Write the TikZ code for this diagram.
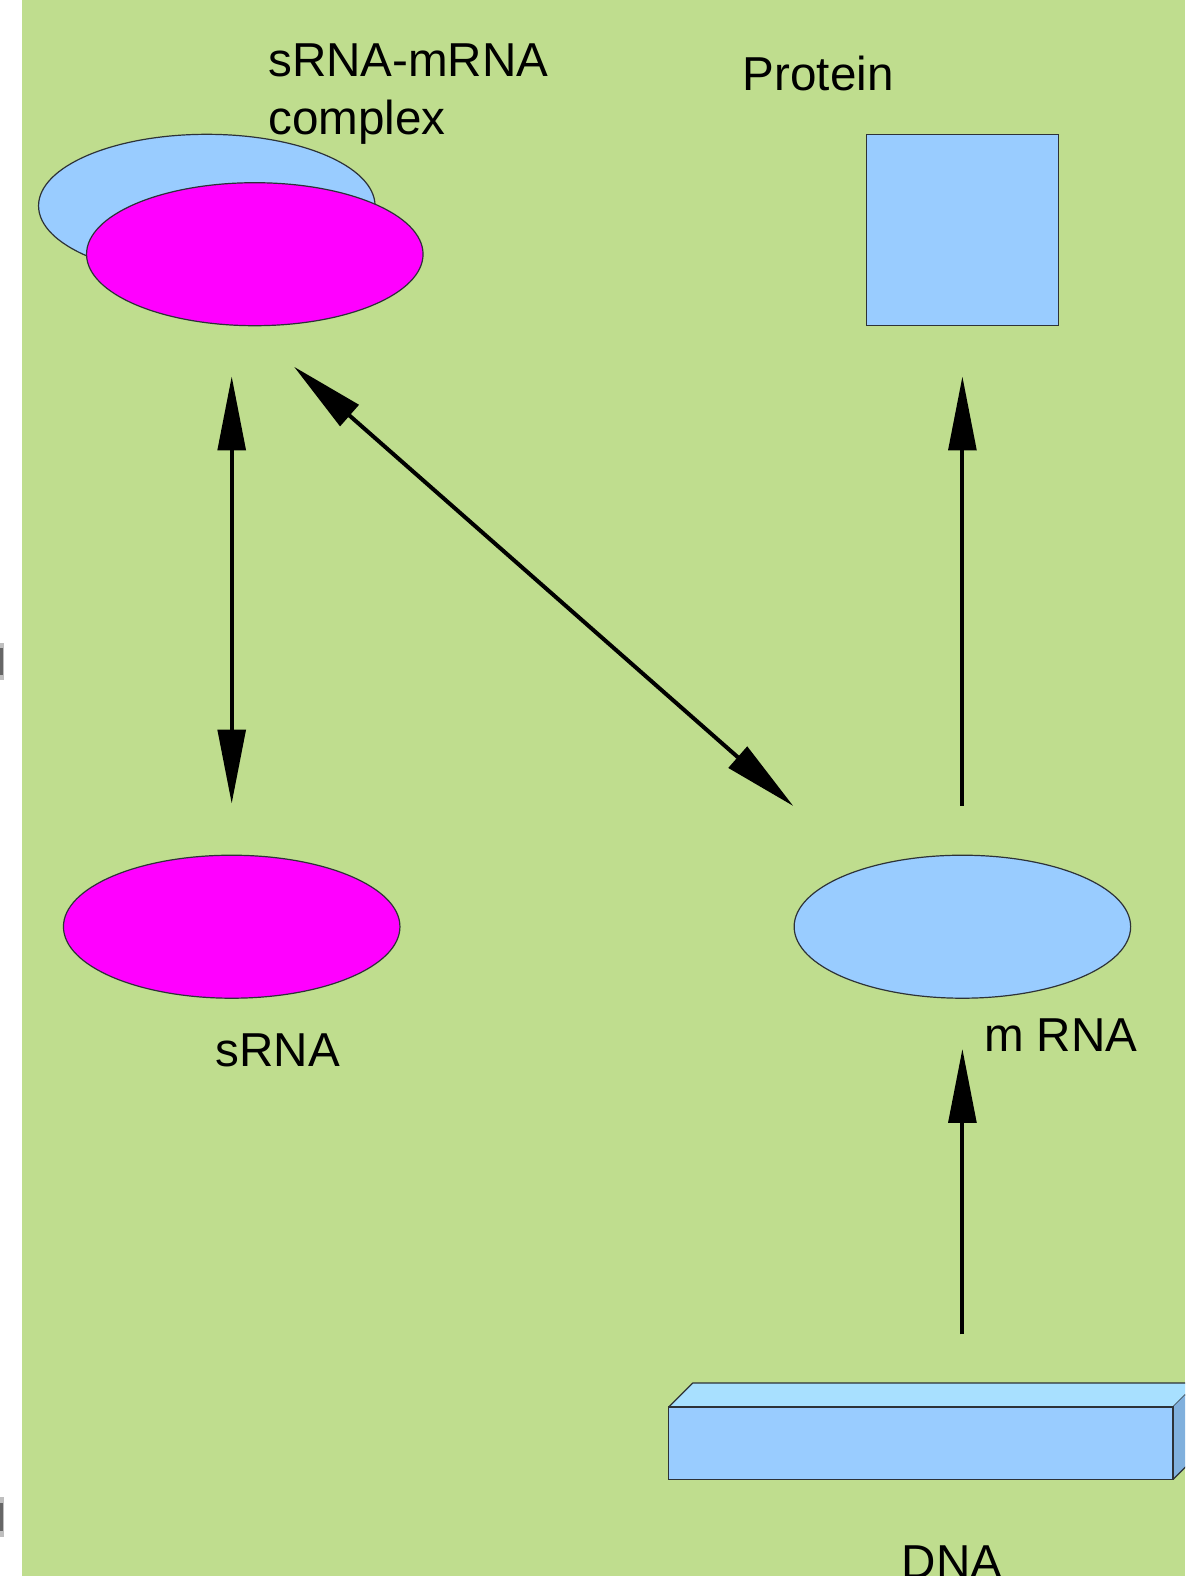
\documentclass[tikz,border=0pt]{standalone}
\usepackage{fontspec}
\setmainfont{Liberation Sans}
\usetikzlibrary{shapes.geometric,arrows.meta}
\definecolor{bggreen}{RGB}{191,221,142}
\definecolor{lblue}{RGB}{153,204,255}
\definecolor{topblue}{RGB}{168,224,255}
\definecolor{sideblue}{RGB}{128,176,221}
\definecolor{mag}{RGB}{255,0,255}
\definecolor{edge}{RGB}{45,50,55}
\begin{document}
\begin{tikzpicture}[x=0.5pt,y=-0.5pt,
  blob/.style={ellipse,draw=edge,line width=0.6pt,inner sep=0pt,minimum width=168.25pt,minimum height=71.5pt},
  lbl/.style={anchor=base west,inner sep=0pt,font=\fontsize{23.8}{29}\selectfont},
  conn/.style={line width=2pt,black},
  tip/.style={-{Triangle[length=37pt,width=13.8pt]}},
  face/.style={draw=edge,line width=0.6pt,line join=round}]
\useasboundingbox (0,0) rectangle (1185,1576);
\clip (0,0) rectangle (1185,1576);
\fill[white] (0,0) rectangle (1185,1576);
\fill[bggreen] (21.5,0) rectangle (1185,1576);
% small marks on the left margin
\fill[gray!50] (0,643) rectangle (4,680);
\fill[gray!80!black] (0,648) rectangle (3,675);
\fill[gray!50] (0,1497) rectangle (4,1537);
\fill[gray!80!black] (0,1503) rectangle (3,1531);

% complex
\node[blob,fill=lblue] (cblue) at (206.8,205.8) {};
\node[blob,fill=mag] (cmag) at (254.8,254.2) {};
\node[lbl] (tcomplex) at (267.8,76.7) {\begin{tabular}[t]{@{}l@{}}sRNA-mRNA\\complex\end{tabular}};

% protein
\node[draw=edge,line width=0.6pt,fill=lblue,minimum width=96pt,minimum height=95.5pt,inner sep=0pt] (prot) at (962.4,230.2) {};
\node[lbl] (tprot) at (742.4,90) {Protein};

% sRNA and mRNA
\node[blob,fill=mag] (srna) at (231.7,926.7) {};
\node[lbl] (tsrna) at (215.2,1066.7) {sRNA};
\node[blob,fill=lblue] (mrna) at (962.4,926.7) {};
\node[lbl] (tmrna) at (983.7,1051.7) {m RNA};

% DNA box
\fill[topblue] (668.8,1407) -- (692.8,1383) -- (1197,1383) -- (1173,1407) -- cycle;
\draw[face] (668.8,1407) -- (692.8,1383) -- (1197,1383) -- (1173,1407);
\fill[sideblue] (1173,1407) -- (1197,1383) -- (1197,1455.5) -- (1173,1479.5) -- cycle;
\draw[face] (1197,1383) -- (1197,1455.5) -- (1173,1479.5);
\node[draw=edge,line width=0.6pt,fill=lblue,inner sep=0pt,minimum width=252.1pt,minimum height=36.25pt] (dna) at (920.9,1443.25) {};
\node[lbl] (tdna) at (901.3,1578.6) {DNA};

% connectors
\coordinate (d1) at (294,366.7);
\coordinate (d2) at (793.3,806);
\draw[conn,{Triangle[length=37pt,width=13.8pt]}-{Triangle[length=37pt,width=13.8pt]},shorten <=25.5pt,shorten >=25pt] (srna.north) -- (srna.north |- cmag.south);
\draw[conn,{Triangle[length=37pt,width=13.8pt]}-{Triangle[length=37pt,width=13.8pt]}] (d1) -- (d2);
\draw[conn,tip,shorten <=24.5pt,shorten >=25pt] (mrna.north) -- (prot.south);
\draw[conn,tip,shorten <=36pt,shorten >=25pt] (mrna.south |- dna.north) -- (mrna.south);
\end{tikzpicture}
\end{document}
